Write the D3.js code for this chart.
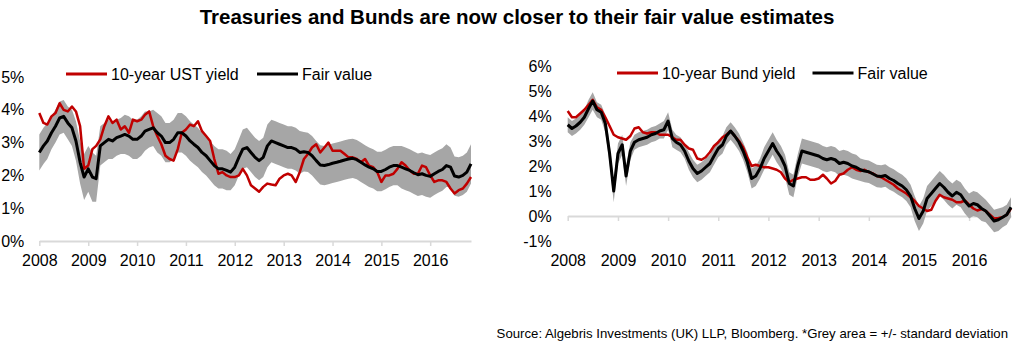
<!DOCTYPE html>
<html>
<head>
<meta charset="utf-8">
<script src="https://cdn.jsdelivr.net/npm/d3@7"></script>
<style>
  html, body { margin: 0; padding: 0; background: #fff; }
  svg { display: block; font-family: "Liberation Sans", Arial, sans-serif; }
</style>
</head>
<body>
<svg id="chart" width="1024" height="346"></svg>
<script>
// ---------- DATA (monthly, Jan 2008 .. Nov 2016) ----------
const yearLabels = ["2008","2009","2010","2011","2012","2013","2014","2015","2016"];
const usYTicks = [0, 1, 2, 3, 4, 5];
const deYTicks = [-1, 0, 1, 2, 3, 4, 5, 6];

const ustYield = [
  3.9,3.6,3.55,3.8,3.9,4.2,4.0,3.95,4.1,3.95,3.5,2.2,
  2.3,2.8,2.9,3.1,3.5,3.8,3.6,3.7,3.4,3.5,3.3,3.7,
  3.65,3.7,3.85,3.95,3.5,3.2,2.95,2.6,2.5,2.45,2.8,3.3,
  3.4,3.55,3.5,3.65,3.35,3.2,3.05,2.5,2.05,2.1,2.0,1.95,
  1.95,2.0,2.2,2.0,1.7,1.6,1.5,1.65,1.75,1.72,1.7,1.9,
  2.0,2.05,2.0,1.8,2.1,2.5,2.65,2.85,2.95,2.7,2.85,3.0,
  2.75,2.75,2.75,2.65,2.55,2.55,2.5,2.4,2.5,2.3,2.25,2.1,
  1.8,2.0,2.0,2.05,2.2,2.4,2.3,2.15,2.05,2.05,2.3,2.25,
  2.0,1.8,1.85,1.85,1.8,1.6,1.45,1.55,1.6,1.75,1.95
];
const ustFair = [
  2.7,2.9,3.05,3.3,3.5,3.75,3.8,3.6,3.45,3.05,2.4,1.95,
  2.2,1.95,1.9,2.9,3.0,3.1,3.05,3.15,3.2,3.25,3.2,3.1,
  3.1,3.2,3.35,3.4,3.45,3.3,3.2,3.0,3.0,3.1,3.3,3.3,
  3.2,3.05,2.95,2.85,2.7,2.6,2.45,2.3,2.2,2.2,2.15,2.1,
  2.25,2.55,2.8,2.85,2.7,2.55,2.45,2.55,2.9,3.05,3.0,2.95,
  2.9,2.85,2.85,2.8,2.7,2.72,2.7,2.6,2.45,2.32,2.3,2.33,
  2.37,2.4,2.43,2.47,2.5,2.52,2.48,2.4,2.32,2.25,2.2,2.12,
  2.12,2.18,2.25,2.3,2.3,2.25,2.2,2.15,2.08,2.02,2.05,2.0,
  1.97,2.05,2.12,2.18,2.3,2.25,1.98,1.95,2.0,2.1,2.35
];
const ustSd = [
  .55,.55,.55,.5,.5,.5,.5,.5,.55,.6,.65,.7,
  .7,.75,.7,.6,.6,.6,.55,.55,.55,.6,.6,.6,
  .6,.6,.6,.55,.55,.6,.6,.6,.6,.6,.6,.6,
  .6,.6,.6,.6,.6,.6,.6,.6,.6,.6,.6,.55,
  .55,.55,.6,.6,.6,.6,.6,.6,.65,.65,.65,.65,
  .65,.65,.65,.65,.65,.6,.6,.6,.6,.6,.6,.6,
  .6,.6,.6,.6,.6,.6,.6,.6,.6,.6,.6,.6,
  .6,.6,.6,.6,.6,.65,.65,.65,.65,.65,.65,.65,
  .65,.65,.65,.65,.65,.6,.6,.6,.6,.6,.6
];

const bundYield = [
  4.2,3.95,3.95,4.1,4.25,4.45,4.65,4.35,4.25,3.95,3.6,3.25,
  3.15,3.1,3.05,3.2,3.5,3.55,3.35,3.3,3.35,3.35,3.25,3.25,
  3.25,3.15,3.05,3.05,2.85,2.7,2.65,2.3,2.25,2.35,2.55,2.8,
  2.95,3.15,3.25,3.4,3.2,3.0,2.75,2.35,2.0,2.05,2.0,1.95,
  1.95,1.9,1.85,1.75,1.5,1.35,1.45,1.5,1.55,1.55,1.45,1.45,
  1.5,1.65,1.5,1.3,1.4,1.65,1.7,1.85,1.95,1.85,1.8,1.85,
  1.75,1.7,1.6,1.55,1.45,1.35,1.25,1.1,1.0,0.9,0.75,0.6,
  0.4,0.3,0.2,0.25,0.6,0.85,0.75,0.7,0.65,0.55,0.55,0.62,
  0.45,0.3,0.22,0.28,0.2,0.05,-0.1,-0.08,-0.05,0.05,0.3
];
const bundFair = [
  3.65,3.5,3.6,3.75,3.95,4.3,4.6,4.25,4.15,3.7,2.5,1.0,
  2.5,2.85,1.6,2.6,2.95,3.05,3.1,3.15,3.25,3.3,3.4,3.45,
  3.8,3.1,2.95,2.85,2.6,2.2,1.9,1.7,1.8,1.95,2.1,2.4,
  2.7,2.85,3.2,3.4,3.2,2.95,2.6,2.15,1.5,1.6,1.9,2.3,
  2.6,2.9,2.6,2.35,2.0,1.3,1.2,2.0,2.6,2.55,2.5,2.45,
  2.4,2.3,2.25,2.3,2.25,2.1,2.15,2.1,2.0,1.95,1.85,1.8,
  1.77,1.68,1.6,1.58,1.62,1.5,1.42,1.3,1.2,1.05,0.8,0.3,
  -0.1,0.2,0.7,0.9,1.1,1.3,1.15,0.95,0.8,0.95,0.85,0.6,
  0.4,0.5,0.45,0.3,0.2,0.0,-0.2,-0.15,-0.05,0.05,0.35
];
const bundSd = [
  .3,.3,.3,.3,.3,.35,.35,.3,.3,.35,.4,.45,
  .4,.4,.4,.35,.3,.3,.3,.3,.3,.3,.3,.35,
  .35,.35,.3,.3,.3,.35,.35,.35,.35,.35,.35,.35,
  .35,.35,.35,.35,.35,.35,.35,.4,.4,.4,.4,.45,
  .45,.45,.45,.45,.45,.45,.45,.45,.5,.5,.5,.5,
  .5,.5,.5,.5,.5,.5,.5,.5,.5,.5,.45,.45,
  .45,.45,.45,.45,.45,.45,.45,.45,.45,.45,.45,.5,
  .5,.5,.5,.5,.5,.5,.5,.5,.5,.5,.5,.5,
  .5,.5,.5,.5,.45,.45,.45,.45,.4,.4,.4
];

const titleText = "Treasuries and Bunds are now closer to their fair value estimates";
const sourceText = "Source: Algebris Investments (UK) LLP, Bloomberg. *Grey area = +/- standard deviation";

// ---------- DRAW ----------
const months = d3.timeMonth.range(new Date(2008, 0, 1), new Date(2016, 11, 1));
const yearDates = yearLabels.map(y => new Date(+y, 0, 1));
const svg = d3.select("#chart");
const RED = "#C00000", GREY = "#A6A6A6", AXIS = "#D9D9D9";

svg.append("text")
  .attr("x", 517).attr("y", 24)
  .attr("text-anchor", "middle")
  .attr("font-weight", "bold")
  .attr("font-size", "20.5px")
  .attr("fill", "#000")
  .text(titleText);

svg.append("text")
  .attr("x", 1008).attr("y", 338)
  .attr("text-anchor", "end")
  .attr("font-size", "13.2px")
  .attr("fill", "#000")
  .text(sourceText);

function panel(cfg) {
  const g = svg.append("g");
  const x = d3.scaleTime()
    .domain([new Date(2008, 0, 1), new Date(2016, 10, 1)])
    .range([cfg.x0, cfg.x1]);
  const y = d3.scaleLinear().domain(cfg.yDomain).range([cfg.yBottom, cfg.yTop]);

  const rows = months.map((d, i) => ({ d, v: cfg.yieldS[i], f: cfg.fair[i], s: cfg.sd[i] }));

  // y axis labels
  const ya = g.append("g")
    .attr("transform", `translate(${cfg.x0},0)`)
    .call(d3.axisLeft(y).tickValues(cfg.yTicks).tickSize(0).tickPadding(cfg.yPad)
      .tickFormat(d => d + "%"));
  ya.select(".domain").remove();
  ya.selectAll("text").attr("font-size", "16px").attr("font-family", "Liberation Sans, Arial, sans-serif").attr("fill", "#000");

  // x axis at 0%
  const y0 = y(0);
  const xa = g.append("g")
    .attr("transform", `translate(0,${y0})`)
    .call(d3.axisBottom(x).tickValues(yearDates).tickFormat(d3.timeFormat("%Y"))
      .tickSizeInner(5).tickSizeOuter(0));
  xa.select(".domain").attr("stroke", AXIS).attr("stroke-width", 2);
  xa.selectAll(".tick line").attr("stroke", AXIS).attr("stroke-width", 1.5);
  xa.selectAll("text")
    .attr("font-size", "16px").attr("font-family", "Liberation Sans, Arial, sans-serif")
    .attr("fill", "#000")
    .attr("y", cfg.labelY - y0).attr("dy", 0);

  // band
  g.append("path").datum(rows)
    .attr("fill", GREY)
    .attr("d", d3.area().x(r => x(r.d)).y0(r => y(r.f - r.s)).y1(r => y(r.f + r.s)));

  // yield line
  g.append("path").datum(rows)
    .attr("fill", "none").attr("stroke", RED).attr("stroke-width", 2.5)
    .attr("stroke-linejoin", "round")
    .attr("d", d3.line().x(r => x(r.d)).y(r => y(r.v)));

  // fair value line
  g.append("path").datum(rows)
    .attr("fill", "none").attr("stroke", "#000").attr("stroke-width", 3)
    .attr("stroke-linejoin", "round")
    .attr("d", d3.line().x(r => x(r.d)).y(r => y(r.f)));

  // legend
  const lg = g.append("g").attr("font-size", "16px").attr("fill", "#000");
  cfg.legend.forEach(it => {
    lg.append("line").attr("x1", it.x).attr("x2", it.x + 41)
      .attr("y1", cfg.legY).attr("y2", cfg.legY)
      .attr("stroke", it.color).attr("stroke-width", 3);
    lg.append("text").attr("x", it.x + 45).attr("y", cfg.legY + 5.5).text(it.label);
  });
}

panel({
  x0: 39.3, x1: 471, yDomain: [0, 5], yBottom: 241, yTop: 77, yTicks: usYTicks, yPad: 15,
  labelY: 266, yieldS: ustYield, fair: ustFair, sd: ustSd, legY: 74,
  legend: [
    { x: 66, color: RED, label: "10-year UST yield" },
    { x: 257, color: "#000", label: "Fair value" }
  ]
});

panel({
  x0: 567.7, x1: 1011, yDomain: [-1, 6], yBottom: 241, yTop: 66, yTicks: deYTicks, yPad: 16,
  labelY: 266, yieldS: bundYield, fair: bundFair, sd: bundSd, legY: 73,
  legend: [
    { x: 617, color: RED, label: "10-year Bund yield" },
    { x: 812.5, color: "#000", label: "Fair value" }
  ]
});
</script>
</body>
</html>
